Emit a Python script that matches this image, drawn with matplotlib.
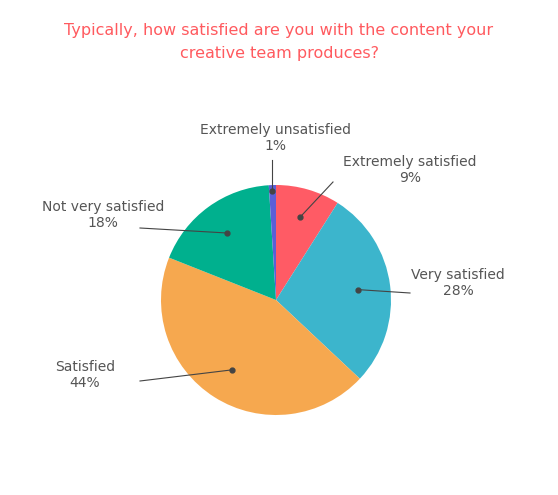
import matplotlib
matplotlib.use("Agg")
import matplotlib.pyplot as plt
import numpy as np

labels = ["Extremely satisfied", "Very satisfied", "Satisfied", "Not very satisfied", "Extremely unsatisfied"]
values = [9, 28, 44, 18, 1]
colors = ["#FF5B65", "#3CB5CC", "#F6A84F", "#00B08E", "#5B5FD6"]

W, H = 558, 495
fig = plt.figure(figsize=(W/100, H/100), dpi=100)
cx, cy, r = 276, 300, 115
ax = fig.add_axes([(cx-r)/W, (H-cy-r)/H, 2*r/W, 2*r/H])
wedges, _ = ax.pie(values, colors=colors, startangle=90, counterclock=False,
                   wedgeprops=dict(linewidth=0))
ax.set_xlim(-1, 1); ax.set_ylim(-1, 1); ax.set_aspect("equal"); ax.axis("off")

fig.text(0.5, 1-42/H, "Typically, how satisfied are you with the content your\ncreative team produces?",
         ha="center", va="center", color="#FF5A5F", fontsize=11.5, linespacing=1.6)

# text anchor in pixel coords, alignment, dot radius fraction, line end in pixels
specs = [
    ((343, 170), "left", 0.75, (333, 182)),
    ((458, 283), "center", 0.72, (410, 293)),
    ((85, 375), "center", 0.72, (140, 381)),
    ((103, 215), "center", 0.72, (140, 228)),
    ((275, 138), "center", 0.95, (272, 160)),
]
grey = "#555555"
for w, lab, v, (tp, ha, fr, le) in zip(wedges, labels, values, specs):
    ang = np.deg2rad((w.theta1 + w.theta2) / 2)
    dx, dy = fr*np.cos(ang), fr*np.sin(ang)
    if lab == "Extremely unsatisfied":
        dx = (272-cx)/r
    px, py = cx + dx*r, cy - dy*r
    ax.plot([dx], [dy], "o", color="#444444", ms=3.5)
    ax.plot([dx, (le[0]-cx)/r], [dy, (cy-le[1])/r], color="#444444", lw=0.8, clip_on=False)
    fig.text(tp[0]/W, 1-tp[1]/H, f"{lab}\n{v}%", ha=ha, va="center", color=grey,
             fontsize=10, multialignment="center", linespacing=1.15)

fig.savefig("out.png", dpi=100, facecolor="white")
